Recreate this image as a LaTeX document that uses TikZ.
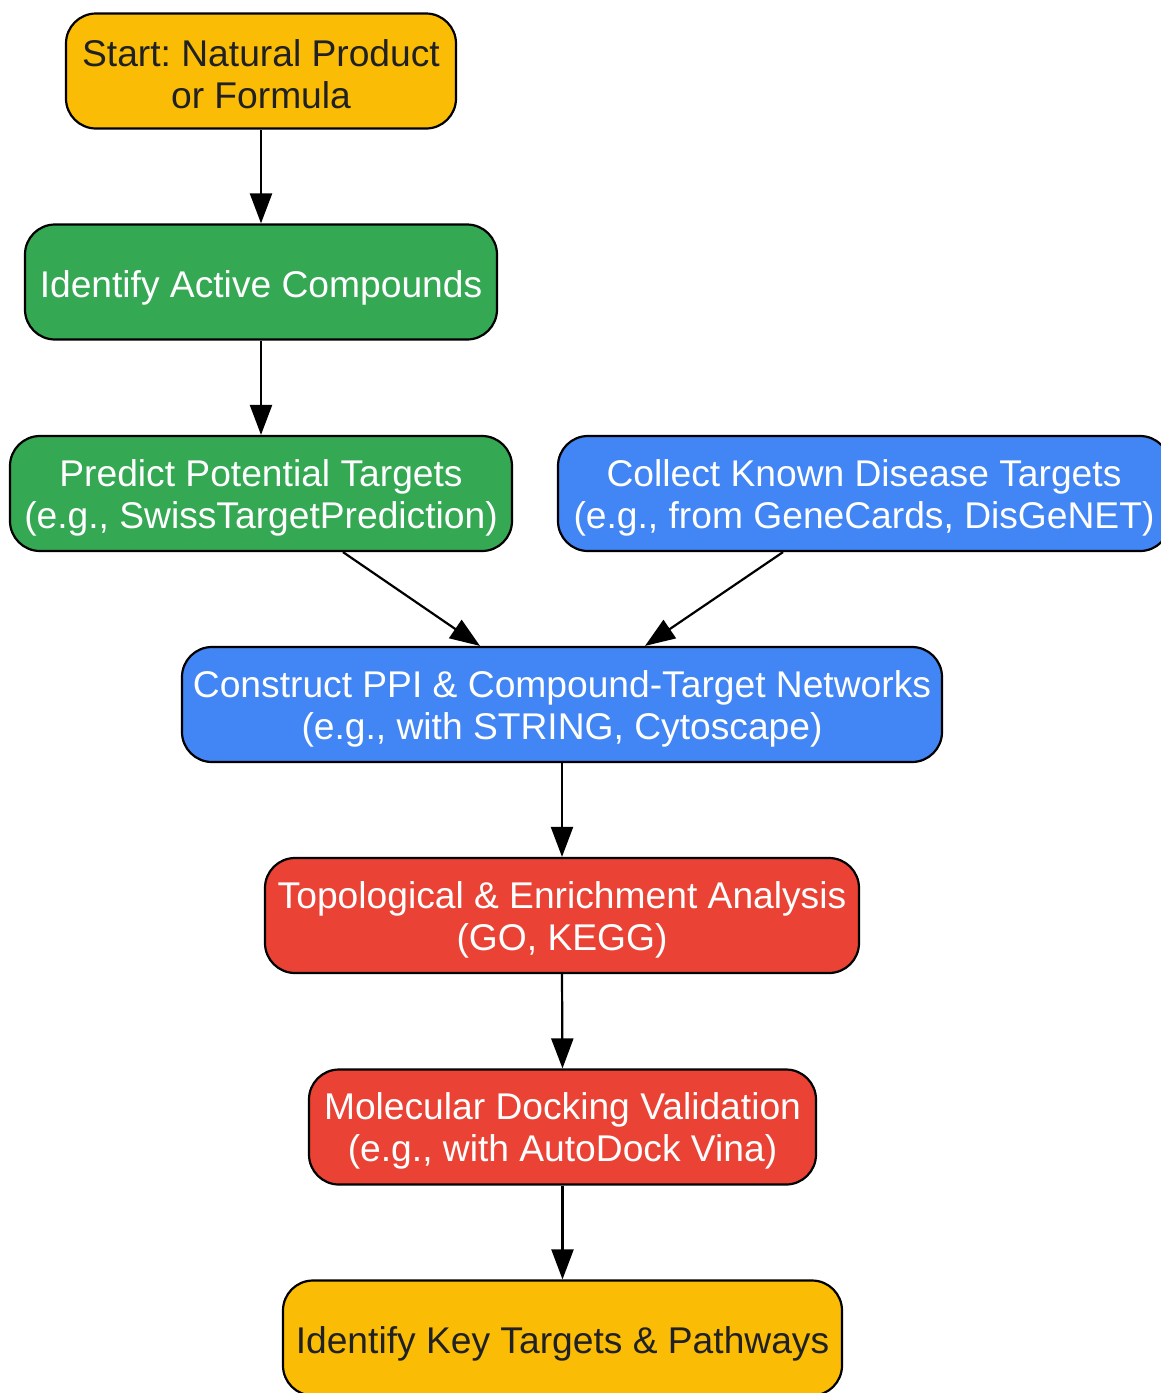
\documentclass[tikz,border=0pt]{standalone}
\usepackage{fontspec}
\setmainfont{Liberation Sans}
\frenchspacing
\usetikzlibrary{arrows.meta,calc}
\definecolor{gyellow}{HTML}{FBBC05}
\definecolor{ggreen}{HTML}{34A853}
\definecolor{gblue}{HTML}{4285F4}
\definecolor{gred}{HTML}{EA4335}
\definecolor{gdark}{HTML}{202124}
\tikzset{
  box/.style={draw=black, line width=2.2pt, rounded corners=30pt, inner sep=0pt,
    minimum height=115pt},
  ybox/.style={box, fill=gyellow},
  gbox/.style={box, fill=ggreen},
  bbox/.style={box, fill=gblue},
  rbox/.style={box, fill=gred},
  tx/.style={inner sep=0pt, align=center, font=\fontsize{37.2}{42}\selectfont},
  dtx/.style={tx, text=gdark},
  wtx/.style={tx, text=white},
  conn/.style={line width=2.2pt, -{Triangle[length=30pt,width=22pt]}}
}
\begin{document}
\begin{tikzpicture}[x=1pt,y=-1pt]
\useasboundingbox (0,0) rectangle (1160,1393);
\node[ybox, minimum width=390pt] (start) at (261,71) {};
\node[dtx] (startT) at ([yshift=-3.5pt]start.center) {Start: Natural Product\\or Formula};
\node[gbox, minimum width=472pt] (ident) at (261,282) {};
\node[wtx] (identT) at ([yshift=-5.5pt]ident.center) {Identify Active Compounds};
\node[gbox, minimum width=502pt] (pred) at (261,493.5) {};
\node[wtx] (predT) at ([yshift=-4pt]pred.center) {Predict Potential Targets\\(e.g., SwissTargetPrediction)};
\node[bbox, minimum width=612pt] (coll) at (864,493.5) {};
\node[wtx] (collT) at ([yshift=-4pt]coll.center) {Collect Known Disease Targets\\(e.g., from GeneCards, DisGeNET)};
\node[bbox, minimum width=760pt] (cons) at (562,704.5) {};
\node[wtx] (consT) at ([yshift=-4pt]cons.center) {Construct PPI \& Compound-Target Networks\\(e.g., with STRING, Cytoscape)};
\node[rbox, minimum width=594pt] (topo) at (562,915.5) {};
\node[wtx] (topoT) at ([yshift=-4pt]topo.center) {Topological \& Enrichment Analysis\\(GO, KEGG)};
\node[rbox, minimum width=507pt] (mol) at (562.5,1127) {};
\node[wtx] (molT) at ([yshift=-4pt]mol.center) {Molecular Docking Validation\\(e.g., with AutoDock Vina)};
\node[ybox, minimum width=559pt] (key) at (562.5,1338) {};
\node[dtx] (keyT) at ([yshift=-5.5pt]key.center) {Identify Key Targets \& Pathways};
\draw[conn] (start.south) -- (ident.north);
\draw[conn] (ident.south) -- (pred.north);
\draw[conn] ([xshift=82pt]pred.south) -- ([xshift=-82pt]cons.north);
\draw[conn] ([xshift=-81pt]coll.south) -- ([xshift=83pt]cons.north);
\draw[conn] (cons.south) -- (topo.north);
\draw[conn] (topo.south) -- (mol.north);
\draw[conn] (mol.south) -- (key.north);
\end{tikzpicture}
\end{document}
